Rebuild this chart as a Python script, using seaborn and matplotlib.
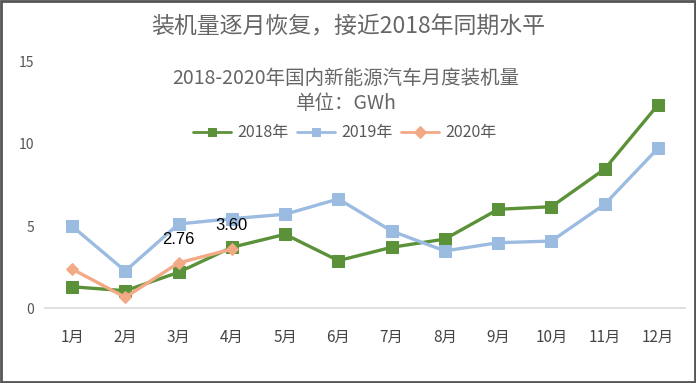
"""
Monthly installed battery capacity of new energy vehicles, 2018-2020.
"""

import pandas as pd
import matplotlib.pyplot as plt
import seaborn as sns
from matplotlib.patches import Rectangle

# Data (GWh)
months = ['1月', '2月', '3月', '4月', '5月', '6月',
          '7月', '8月', '9月', '10月', '11月', '12月']
values_2018 = [1.31, 1.07, 2.19, 3.71, 4.50, 2.90, 3.71, 4.21, 6.02, 6.18, 8.47, 12.37]
values_2019 = [5.00, 2.27, 5.13, 5.45, 5.72, 6.65, 4.70, 3.49, 3.99, 4.09, 6.33, 9.73]
values_2020 = [2.39, 0.67, 2.76, 3.60]
labelled_2020 = {2: '2.76', 3: '3.60'}

series_names = ['2018年', '2019年', '2020年']
y_ticks = [0, 5, 10, 15]


def build_frame():
    """Long table of the three series."""
    rows = []
    for name, vals in zip(series_names, [values_2018, values_2019, values_2020]):
        for i, v in enumerate(vals):
            rows.append({'month': months[i], 'pos': i, 'value': v, 'year': name})
    return pd.DataFrame(rows)


def plot_chart(df):
    sns.set_style('white')
    plt.rcParams['font.family'] = ['Noto Sans CJK SC', 'DejaVu Sans']

    fig = plt.figure(figsize=(6.96, 3.83), dpi=100)
    ax = fig.add_axes([0.0652, 0.195, 0.9184, 0.644])

    styles = {
        '2018年': dict(color='#5b9239', marker='s', markersize=8, linewidth=2.4),
        '2019年': dict(color='#9bbbe1', marker='s', markersize=8, linewidth=2.4),
        '2020年': dict(color='#f2a986', marker='D', markersize=6, linewidth=2.4),
    }
    for name in series_names:
        sub = df[df['year'] == name]
        st = styles[name]
        sns.lineplot(data=sub, x='pos', y='value', ax=ax, label=name,
                     color=st['color'], linewidth=st['linewidth'],
                     marker=st['marker'], markersize=st['markersize'],
                     markeredgecolor=st['color'], markerfacecolor=st['color'])

    # data labels on 2020
    sub20 = df[df['year'] == '2020年']
    for i, txt in labelled_2020.items():
        v = sub20[sub20['pos'] == i]['value'].iloc[0]
        ax.annotate(txt, (i, v), xytext=(0, 17), textcoords='offset points',
                    ha='center', va='center', fontsize=12, color='black',
                    family=['Liberation Sans', 'DejaVu Sans'])

    ax.set_xlim(-0.5, 11.5)
    ax.set_ylim(0, 15)
    ax.set_xticks(range(len(months)))
    ax.set_xticklabels(months, fontsize=11, color='#444444')
    ax.set_yticks(y_ticks)
    ax.set_yticklabels([str(t) for t in y_ticks], fontsize=10, color='#555555')
    ax.tick_params(axis='both', length=0)
    ax.tick_params(axis='x', pad=15)
    ax.tick_params(axis='y', pad=8)
    ax.set_xlabel('')
    ax.set_ylabel('')
    for s in ['top', 'right', 'left']:
        ax.spines[s].set_visible(False)
    ax.spines['bottom'].set_color('#d9d9d9')
    ax.spines['bottom'].set_linewidth(1.2)

    leg = ax.legend(loc='center', bbox_to_anchor=(345 / 696, 0.653),
                    bbox_transform=fig.transFigure, ncol=3, frameon=False,
                    fontsize=11.5, handlelength=2.4, columnspacing=0.5,
                    handletextpad=0.4, labelcolor='#595959')
    for h in leg.legend_handles:
        h.set_markersize(6)
        h.set_linewidth(2)

    fig.text(0.5, 0.93, '装机量逐月恢复，接近2018年同期水平', ha='center',
             va='center', fontsize=16.5, color='#666666')
    fig.text(0.497, 0.794, '2018-2020年国内新能源汽车月度装机量', ha='center',
             va='center', fontsize=14, color='#666666')
    fig.text(0.497, 0.731, '单位：GWh', ha='center', va='center',
             fontsize=14, color='#666666')

    fig.add_artist(Rectangle((0.002, 0.003), 0.996, 0.994, transform=fig.transFigure,
                             fill=False, edgecolor='#555555', linewidth=2))

    fig.savefig('out.png', dpi=100)
    plt.close(fig)


def main():
    df = build_frame()
    plot_chart(df)


if __name__ == '__main__':
    main()
